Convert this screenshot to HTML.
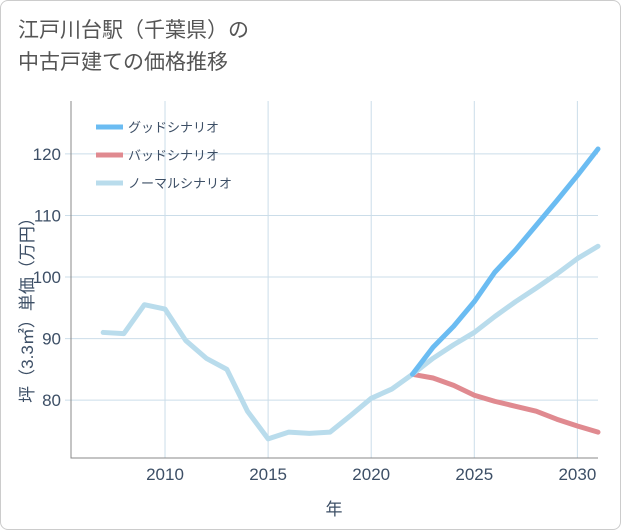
<!DOCTYPE html>
<html><head><meta charset="utf-8"><style>
body{margin:0;background:#fff;}
#wrap{position:relative;width:619px;height:528px;border:1px solid #ccc;border-radius:8px;background:#fff;overflow:hidden;font-family:"Liberation Sans","Noto Sans CJK JP",sans-serif;}
#title{position:absolute;left:17px;top:14px;font-size:21px;line-height:32px;color:#555;}
svg{position:absolute;left:0;top:0;}
</style></head><body>
<div id="wrap">
<div id="title">江戸川台駅（千葉県）の<br>中古戸建ての価格推移</div>
<svg id="chart" width="621" height="530"></svg>
</div>
<script>
const years=[2007,2008,2009,2010,2011,2012,2013,2014,2015,2016,2017,2018,2019,2020,2021,2022,2023,2024,2025,2026,2027,2028,2029,2030,2031];
const normal=[91.0,90.8,95.5,94.8,89.7,86.8,85.0,78.2,73.7,74.8,74.6,74.8,77.5,80.3,81.8,84.2,86.8,89.0,91.0,93.6,96.0,98.2,100.5,103.0,105.0];
const futYears=[2022,2023,2024,2025,2026,2027,2028,2029,2030,2031];
const good=[84.2,88.6,92.0,96.0,100.8,104.4,108.4,112.4,116.5,120.8];
const bad=[84.2,83.6,82.4,80.8,79.8,79.0,78.2,76.9,75.8,74.8];
const xTicks=[2010,2015,2020,2025,2030];
const yTicks=[80,90,100,110,120];
const L=70,R=597,T=100,B=457,x0=2005.44,x1=2031.0,y0=70.6,y1=128.6;
const X=v=>L+(v-x0)/(x1-x0)*(R-L);
const Y=v=>B-(v-y0)/(y1-y0)*(B-T);
const svg=document.getElementById('chart');
const NS='http://www.w3.org/2000/svg';
const TXT='#3d4f66';
function mk(tag,attrs,parent){const e=document.createElementNS(NS,tag);for(const k in attrs)e.setAttribute(k,attrs[k]);(parent||svg).appendChild(e);return e;}
xTicks.forEach(t=>{
const l=mk('line',{x1:X(t),x2:X(t),y1:T,y2:B,stroke:'#cbdde9','stroke-width':1});


const tx=mk('text',{x:X(t),y:479,'text-anchor':'middle','font-size':17,fill:TXT});
tx.textContent=t;


});
yTicks.forEach(t=>{
const l=mk('line',{x1:L-6,x2:R,y1:Y(t),y2:Y(t),stroke:'#cbdde9','stroke-width':1});


const tx=mk('text',{x:L-10,y:Y(t)+6,'text-anchor':'end','font-size':17,fill:TXT});
tx.textContent=t;


});
const ax=mk('path',{d:`M${L} ${T} V${B} H${R}`,fill:'none',stroke:'#888','stroke-width':1});


function line(xs,ys,color,name){
const p=mk('polyline',{points:xs.map((v,i)=>X(v)+','+Y(ys[i])).join(' '),fill:'none',stroke:color,'stroke-width':5,'stroke-linejoin':'round','stroke-linecap':'round'});


}
line(futYears,bad,'#e08a90','bad-scenario-line');
line(years,normal,'#b9dcec','normal-scenario-line');
line(futYears,good,'#6bbcf2','good-scenario-line');
const legend=[['グッドシナリオ','#6bbcf2'],['バッドシナリオ','#e08a90'],['ノーマルシナリオ','#b9dcec']];
legend.forEach((d,i)=>{
const y=126+i*28;
const l=mk('line',{x1:95,x2:122,y1:y,y2:y,stroke:d[1],'stroke-width':5});


const t=mk('text',{x:127,y:y+5,'font-size':13,fill:TXT});
t.textContent=d[0];


});
const xt=mk('text',{x:333,y:514,'text-anchor':'middle','font-size':17,fill:TXT});
xt.textContent='年';


const yt=mk('text',{x:0,y:0,'text-anchor':'middle','font-size':17,fill:TXT,transform:'translate(32 305) rotate(-90)'});
yt.textContent='坪（3.3㎡）単価（万円）';


</script>
</body></html>
